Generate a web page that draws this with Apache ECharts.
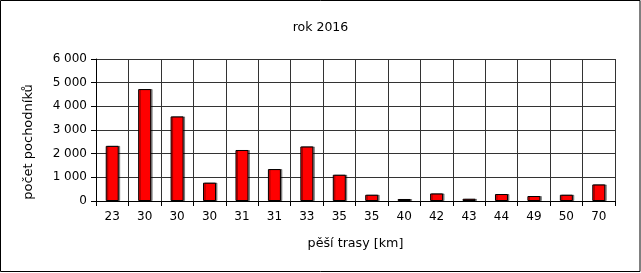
<!DOCTYPE html>
<html><head><meta charset="utf-8">
<script src="https://cdn.jsdelivr.net/npm/echarts@6/dist/echarts.min.js"></script>
<style>html,body{margin:0;padding:0;background:#fff;}#c{width:641px;height:273px;}</style>
</head><body><div id="c"></div>
<script>
const categories = ['23','30','30','30','31','31','33','35','35','40','42','43','44','49','50','70'];
const hikers = [2330, 4730, 3575, 775, 2155, 1350, 2305, 1110, 265, 85, 320, 95, 295, 210, 265, 700];
const titleText = 'rok 2016';
const xName = 'pěší trasy [km]';
const yName = 'počet pochodníků';

const font = 'DejaVu Sans';
const chart = echarts.init(document.getElementById('c'));
chart.setOption({
  animation: false,
  backgroundColor: '#fff',
  textStyle: {fontFamily: font},
  title: {text: titleText, left: 'center', top: 16, textStyle: {fontFamily: font, fontSize: 12.5, fontWeight: 'normal', color: '#000'}},
  grid: {left: 96, right: 26, top: 59, bottom: 72, containLabel: false},
  graphic: [{type: 'rect', shape: {x: 0.5, y: 0.5, width: 639.5, height: 271}, style: {fill: 'none', stroke: '#000', lineWidth: 1}, silent: true}],
  xAxis: {
    type: 'category', data: categories,
    name: xName, nameLocation: 'middle', nameGap: 36,
    nameTextStyle: {fontFamily: font, fontSize: 12.7, color: '#000'},
    axisLine: {lineStyle: {color: '#000', width: 1}},
    axisTick: {show: true, length: 5, lineStyle: {color: '#000'}},
    axisLabel: {fontFamily: font, fontSize: 12, color: '#000', margin: 10},
    splitLine: {show: true, lineStyle: {color: '#333', width: 1}}
  },
  yAxis: {
    type: 'value', min: 0, max: 6000, interval: 1000,
    name: yName, nameLocation: 'middle', nameGap: 61,
    nameTextStyle: {fontFamily: font, fontSize: 13, color: '#000', padding: [0, 24, 0, 0]},
    axisLine: {show: true, lineStyle: {color: '#000', width: 1}},
    axisTick: {show: true, length: 5, lineStyle: {color: '#000'}},
    axisLabel: {fontFamily: font, fontSize: 12, color: '#000', margin: 9,
      formatter: v => String(v).replace(/\B(?=(\d{3})+(?!\d))/g, ' ')},
    splitLine: {show: true, lineStyle: {color: '#333', width: 1}}
  },
  series: [{
    type: 'bar', data: hikers, barWidth: 13,
    itemStyle: {color: '#ff0000', borderColor: '#000', borderWidth: 1,
      shadowColor: 'rgba(0,0,0,0.4)', shadowOffsetX: 1.5, shadowOffsetY: 0, shadowBlur: 0}
  }]
});
</script></body></html>
